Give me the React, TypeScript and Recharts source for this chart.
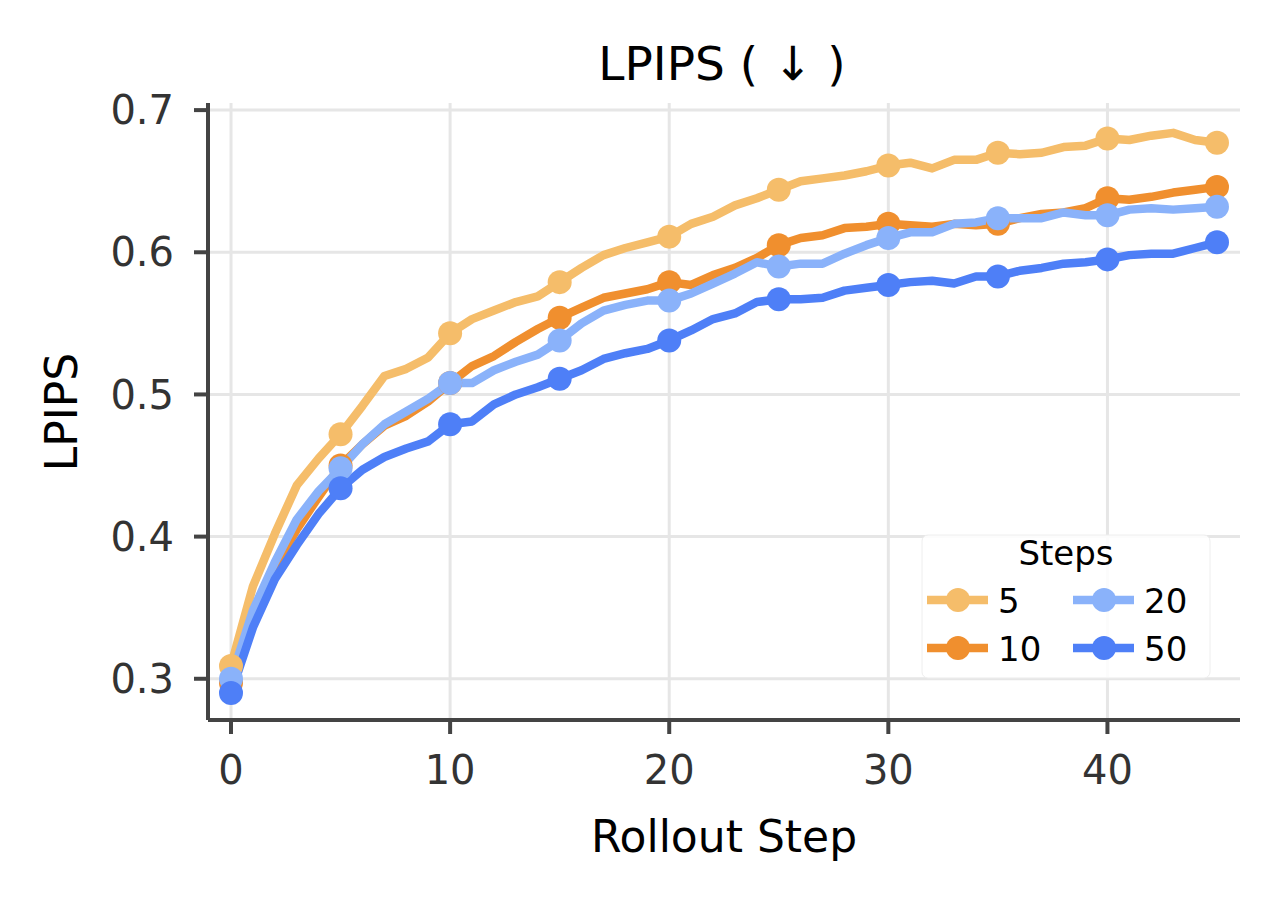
import React from "react";
import { Legend, Line, LineChart, ReferenceLine, XAxis, YAxis } from "recharts";

const rolloutSteps = [
  0, 1, 2, 3, 4, 5, 6, 7, 8, 9, 10, 11, 12, 13, 14, 15, 16, 17, 18, 19, 20, 21, 22,
  23, 24, 25, 26, 27, 28, 29, 30, 31, 32, 33, 34, 35, 36, 37, 38, 39, 40, 41, 42, 43,
  44, 45,
];

const steps5 = [
  0.309, 0.365, 0.402, 0.436, 0.455, 0.472, 0.492, 0.513, 0.518, 0.526, 0.543, 0.553,
  0.559, 0.565, 0.569, 0.579, 0.589, 0.598, 0.603, 0.607, 0.611, 0.62, 0.625, 0.633,
  0.638, 0.644, 0.65, 0.652, 0.654, 0.657, 0.661, 0.663, 0.659, 0.665, 0.665, 0.67,
  0.669, 0.67, 0.674, 0.675, 0.68, 0.679, 0.682, 0.684, 0.679, 0.677,
];
const steps10 = [
  0.297, 0.345, 0.379, 0.405, 0.428, 0.45, 0.465, 0.478, 0.485, 0.495, 0.508, 0.52,
  0.527, 0.537, 0.546, 0.554, 0.561, 0.568, 0.571, 0.574, 0.579, 0.577, 0.584, 0.589,
  0.596, 0.605, 0.61, 0.612, 0.617, 0.618, 0.62, 0.619, 0.618, 0.62, 0.619, 0.62, 0.624,
  0.627, 0.628, 0.631, 0.638, 0.637, 0.639, 0.642, 0.644, 0.646,
];
const steps20 = [
  0.3, 0.348, 0.382, 0.412, 0.432, 0.448, 0.465, 0.479, 0.488, 0.497, 0.508, 0.508,
  0.517, 0.523, 0.528, 0.538, 0.55, 0.559, 0.563, 0.566, 0.566, 0.571, 0.578, 0.585,
  0.593, 0.59, 0.592, 0.592, 0.599, 0.605, 0.61, 0.614, 0.614, 0.62, 0.621, 0.624, 0.624,
  0.624, 0.628, 0.626, 0.626, 0.63, 0.631, 0.63, 0.631, 0.632,
];
const steps50 = [
  0.29, 0.336, 0.37, 0.394, 0.416, 0.434, 0.447, 0.456, 0.462, 0.467, 0.479, 0.481,
  0.493, 0.5, 0.505, 0.511, 0.517, 0.525, 0.529, 0.532, 0.538, 0.545, 0.553, 0.557,
  0.565, 0.567, 0.567, 0.568, 0.573, 0.575, 0.577, 0.579, 0.58, 0.578, 0.583, 0.583,
  0.587, 0.589, 0.592, 0.593, 0.595, 0.598, 0.599, 0.599, 0.603, 0.607,
];

const xTicks = [0, 10, 20, 30, 40];
const yTicks = [0.3, 0.4, 0.5, 0.6, 0.7];

const series = [
  { key: "s5", name: "5", color: "#F5BD6A", values: steps5 },
  { key: "s10", name: "10", color: "#F08F2E", values: steps10 },
  { key: "s20", name: "20", color: "#8AB2FA", values: steps20 },
  { key: "s50", name: "50", color: "#4E7FF7", values: steps50 },
];

const data = rolloutSteps.map((step, i) => {
  const row: Record<string, number> = { step };
  series.forEach((s) => {
    row[s.key] = s.values[i];
  });
  return row;
});

const FONT = "'DejaVu Sans', sans-serif";
const GRID = "#E6E6E6";
const LINE_W = 8.5;
const DOT_R = 12;

const makeDot = (color: string) => (props: any) => {
  const { cx, cy, payload, index } = props;
  if (payload.step % 5 !== 0) return <g key={`d-${index}`} />;
  return <circle key={`d-${index}`} cx={cx} cy={cy} r={DOT_R} fill={color} />;
};

// legend: "Steps" title over two columns (5,10 | 20,50)
const StepsLegend = (props: any) => {
  const payload = props.payload || [];
  const order = series.map((s) => payload.find((p: any) => p.value === s.name)).filter(Boolean);
  return (
    <svg width={290} height={151} style={{ display: "block" }}>
      <rect x={1} y={7} width={288} height={143} rx={6} fill="#fff" fillOpacity={0.85} stroke="#EEE" />
      <text x={145} y={37} textAnchor="middle" fontSize={34} fontFamily={FONT} fill="#000">
        Steps
      </text>
      {order.map((entry: any, i: number) => {
        const col = Math.floor(i / 2);
        const row = i % 2;
        const x0 = 6 + col * 146;
        const cy = 72 + row * 48;
        return (
          <g key={entry.value}>
            <line x1={x0} x2={x0 + 61} y1={cy} y2={cy} stroke={entry.color} strokeWidth={LINE_W} />
            <circle cx={x0 + 31} cy={cy} r={DOT_R} fill={entry.color} />
            <text x={x0 + 71} y={cy + 13} fontSize={34} fontFamily={FONT} fill="#000">
              {entry.value}
            </text>
          </g>
        );
      })}
    </svg>
  );
};

export default function App() {
  return (
    <div style={{ position: "absolute", left: 0, top: 0, width: 1280, height: 904, background: "#fff" }}>
      <LineChart
        width={1280}
        height={904}
        data={data}
        margin={{ top: 103, right: 40, bottom: 104, left: 88 }}
      >
        <XAxis
          dataKey="step"
          type="number"
          domain={[-1.05, 46.05]}
          ticks={xTicks}
          height={80}
          tickSize={14}
          tickMargin={22}
          axisLine={{ stroke: "#444", strokeWidth: 4 }}
          tickLine={{ stroke: "#444", strokeWidth: 4 }}
          tick={{ fontSize: 40, fill: "#333", fontFamily: FONT }}
          allowDataOverflow
        />
        <YAxis
          type="number"
          domain={[0.271, 0.705]}
          ticks={yTicks}
          width={120}
          tickSize={14}
          tickMargin={20}
          tickFormatter={(v: number) => v.toFixed(1)}
          axisLine={{ stroke: "#444", strokeWidth: 4 }}
          tickLine={{ stroke: "#444", strokeWidth: 4 }}
          tick={{ fontSize: 40, fill: "#333", fontFamily: FONT }}
          allowDataOverflow
        />
        {xTicks.map((t) => (
          <ReferenceLine key={`gx-${t}`} x={t} stroke={GRID} strokeWidth={3} />
        ))}
        {yTicks.map((t) => (
          <ReferenceLine key={`gy-${t}`} y={t} stroke={GRID} strokeWidth={3} />
        ))}
        {series.map((s) => (
          <Line
            key={s.key}
            type="linear"
            dataKey={s.key}
            name={s.name}
            stroke={s.color}
            strokeWidth={LINE_W}
            strokeLinejoin="round"
            dot={makeDot(s.color)}
            activeDot={false}
            isAnimationActive={false}
          />
        ))}
        <Legend
          layout="vertical"
          align="center"
          verticalAlign="middle"
          content={<StepsLegend />}
          wrapperStyle={{ left: 921, top: 528, width: 290, height: 151 }}
        />
      </LineChart>
      <svg
        width={1280}
        height={904}
        style={{ position: "absolute", left: 0, top: 0, pointerEvents: "none" }}
      >
        <text x={722} y={80} textAnchor="middle" fontSize={47} fontFamily={FONT} fill="#000">
          LPIPS ( ↓ )
        </text>
        <text x={724} y={852} textAnchor="middle" fontSize={44} fontFamily={FONT} fill="#000">
          Rollout Step
        </text>
        <text
          x={77}
          y={412}
          textAnchor="middle"
          fontSize={44}
          fontFamily={FONT}
          fill="#000"
          transform="rotate(-90 77 412)"
        >
          LPIPS
        </text>
      </svg>
    </div>
  );
}
